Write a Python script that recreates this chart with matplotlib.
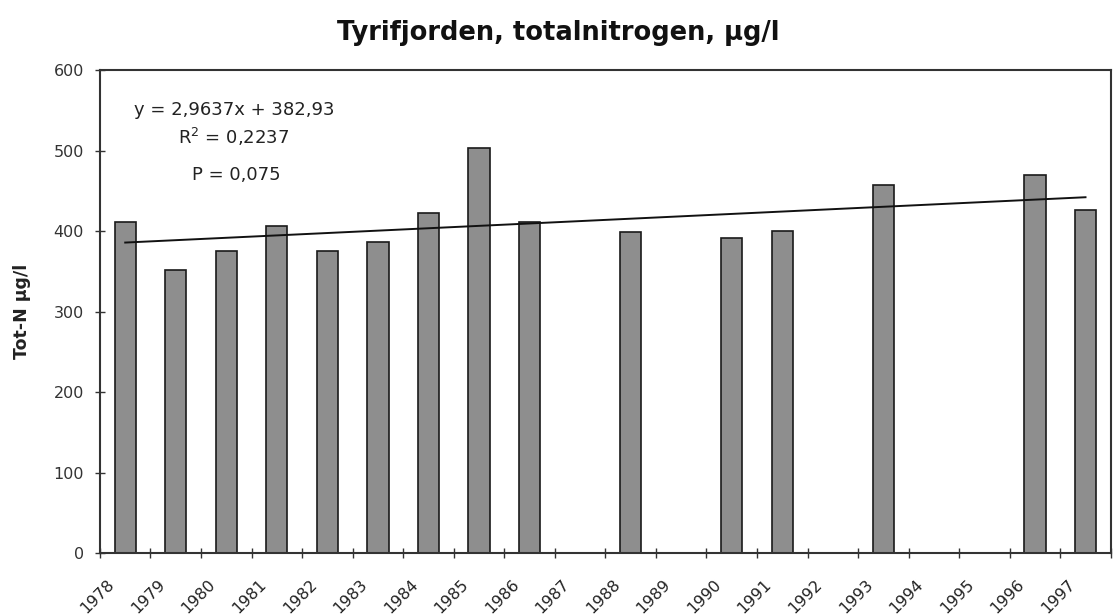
import numpy as np
import matplotlib
matplotlib.use("Agg")
import matplotlib.pyplot as plt
from matplotlib.transforms import ScaledTranslation

plt.rcParams['font.family'] = ['DejaVu Sans']

years = [str(y) for y in range(1978, 1998)]
totn = [411, 352, 376, 407, 376, 386, 422, 503, 411, None,
        399, None, 391, 400, None, 457, None, None, 470, 426]

# Excel linear trend (x = category number 1..20)
slope = 2.9637
intercept = 382.93
eq_text = "y = 2,9637x + 382,93"
r2_text = "R$^2$ = 0,2237"
p_text = "P = 0,075"

pos = np.arange(len(years))
bx = [p for p, v in zip(pos, totn) if v is not None]
bv = [v for v in totn if v is not None]

fig = plt.figure(figsize=(11.13, 6.16), dpi=100)
ax = fig.add_axes([0.0898, 0.102, 0.9082, 0.784])

ax.bar(bx, bv, width=0.42, color='#8e8e8e', edgecolor='#1a1a1a', linewidth=1.2, zorder=2)

trend_y = slope * (pos + 1) + intercept
ax.plot([pos[0], pos[-1]], [trend_y[0], trend_y[-1]], color='#111111', lw=1.4, zorder=3)

ax.set_xlim(-0.5, len(years) - 0.5)
ax.set_ylim(0, 600)
ax.set_yticks(range(0, 601, 100))

# category boundaries get the tick marks, centres get the labels
ax.set_xticks(np.arange(-0.5, len(years), 1.0))
ax.set_xticklabels([])
ax.set_xticks(pos, labels=years, minor=True)
ax.tick_params(axis='x', which='major', direction='inout', length=7, width=1, color='#333333')
ax.tick_params(axis='x', which='minor', length=0, pad=21, labelsize=11.5, labelcolor='#222222')
ax.tick_params(axis='y', direction='inout', length=7, width=1, color='#333333',
               labelsize=11.5, labelcolor='#333333', pad=8)
shift = ScaledTranslation(-0.13, 0, fig.dpi_scale_trans)
for lab in ax.get_xticklabels(minor=True):
    lab.set_rotation(45)
    lab.set_ha('right')
    lab.set_va('center')
    lab.set_rotation_mode('anchor')
    lab.set_transform(lab.get_transform() + shift)

for s in ax.spines.values():
    s.set_color('#333333')
    s.set_linewidth(1.5)

ax.set_ylabel("Tot-N µg/l", fontsize=12.5, fontweight='bold', color='#222222')
ax.yaxis.set_label_coords(-0.068, 0.5)

ax.text(0.1325, 0.917, eq_text, transform=ax.transAxes, ha='center', va='center', fontsize=13, color='#222222')
ax.text(0.1325, 0.861, r2_text, transform=ax.transAxes, ha='center', va='center', fontsize=13, color='#222222')
ax.text(0.1345, 0.783, p_text, transform=ax.transAxes, ha='center', va='center', fontsize=13, color='#222222')

fig.text(0.502, 0.946, "Tyrifjorden, totalnitrogen, µg/l", ha='center', va='center',
         fontsize=18.5, fontweight='bold', color='#111111')

fig.savefig("out.png", dpi=100)
